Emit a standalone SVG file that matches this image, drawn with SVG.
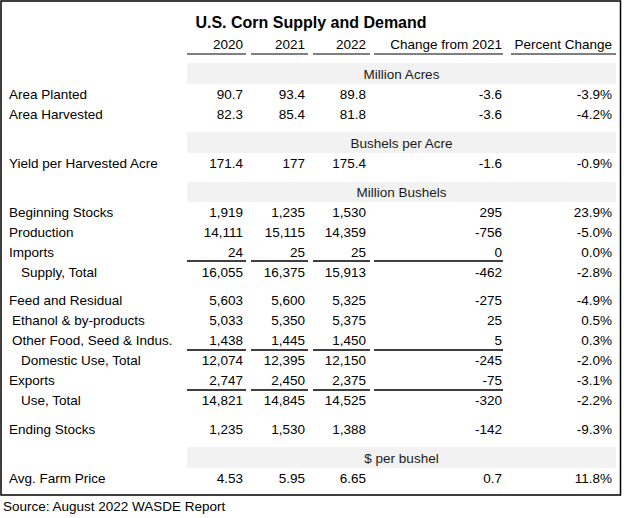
<svg xmlns="http://www.w3.org/2000/svg" width="624" height="518" viewBox="0 0 624 518">
<style>
text{font-family:"Liberation Sans",Arial,sans-serif;font-size:13.5px;fill:#000}
.t{font-size:16px;font-weight:bold;text-anchor:middle}
.r{text-anchor:end}
.m{text-anchor:middle;fill:#1a1a1a}
.band{fill:#f2f2f2}
.ul{stroke:#000;stroke-width:1.3;fill:none}
.hl{stroke:#000;stroke-width:1;fill:none}
</style>
<rect x="0" y="0" width="624" height="518" fill="#fff"/>
<rect x="1" y="1" width="619.5" height="494" fill="#fff" stroke="#000" stroke-width="1.5"/>
<g id="title"><text class="t" x="311" y="28">U.S. Corn Supply and Demand</text></g>
<g id="header">
<text class="r" x="243" y="49">2020</text>
<text class="r" x="305" y="49">2021</text>
<text class="r" x="366" y="49">2022</text>
<text class="r" x="502" y="49">Change from 2021</text>
<text class="r" x="612" y="49">Percent Change</text>
<path class="hl" d="M187 54H246M251 54H308M313 54H370M374 54H503M511 54H616"/>
</g>
<g id="bands">
<rect class="band" x="187" y="63" width="429" height="21"/>
<text class="m" x="401.5" y="79">Million Acres</text>
<rect class="band" x="187" y="132" width="429" height="21"/>
<text class="m" x="401.5" y="148">Bushels per Acre</text>
<rect class="band" x="187" y="182" width="429" height="20"/>
<text class="m" x="401.5" y="197">Million Bushels</text>
<rect class="band" x="187" y="447" width="429" height="21"/>
<text class="m" x="401.5" y="463">$ per bushel</text>
</g>
<g id="rows">
<g id="r-planted"><text x="9" y="99">Area Planted</text><text class="r" x="243" y="99">90.7</text><text class="r" x="305" y="99">93.4</text><text class="r" x="366" y="99">89.8</text><text class="r" x="502" y="99">-3.6</text><text class="r" x="612" y="99">-3.9%</text></g>
<g id="r-harvested"><text x="9" y="119">Area Harvested</text><text class="r" x="243" y="119">82.3</text><text class="r" x="305" y="119">85.4</text><text class="r" x="366" y="119">81.8</text><text class="r" x="502" y="119">-3.6</text><text class="r" x="612" y="119">-4.2%</text></g>
<g id="r-yield"><text x="9" y="168">Yield per Harvested Acre</text><text class="r" x="243" y="168">171.4</text><text class="r" x="305" y="168">177</text><text class="r" x="366" y="168">175.4</text><text class="r" x="502" y="168">-1.6</text><text class="r" x="612" y="168">-0.9%</text></g>
<g id="r-begin"><text x="9" y="217">Beginning Stocks</text><text class="r" x="243" y="217">1,919</text><text class="r" x="305" y="217">1,235</text><text class="r" x="366" y="217">1,530</text><text class="r" x="502" y="217">295</text><text class="r" x="612" y="217">23.9%</text></g>
<g id="r-prod"><text x="9" y="237">Production</text><text class="r" x="243" y="237">14,111</text><text class="r" x="305" y="237">15,115</text><text class="r" x="366" y="237">14,359</text><text class="r" x="502" y="237">-756</text><text class="r" x="612" y="237">-5.0%</text></g>
<g id="r-imports"><text x="9" y="257">Imports</text><text class="r" x="243" y="257">24</text><text class="r" x="305" y="257">25</text><text class="r" x="366" y="257">25</text><text class="r" x="502" y="257">0</text><text class="r" x="612" y="257">0.0%</text></g>
<g id="r-supply"><text x="21" y="277">Supply, Total</text><text class="r" x="243" y="277">16,055</text><text class="r" x="305" y="277">16,375</text><text class="r" x="366" y="277">15,913</text><text class="r" x="502" y="277">-462</text><text class="r" x="612" y="277">-2.8%</text></g>
<g id="r-feed"><text x="9" y="305">Feed and Residual</text><text class="r" x="243" y="305">5,603</text><text class="r" x="305" y="305">5,600</text><text class="r" x="366" y="305">5,325</text><text class="r" x="502" y="305">-275</text><text class="r" x="612" y="305">-4.9%</text></g>
<g id="r-ethanol"><text x="12" y="325">Ethanol &amp; by-products</text><text class="r" x="243" y="325">5,033</text><text class="r" x="305" y="325">5,350</text><text class="r" x="366" y="325">5,375</text><text class="r" x="502" y="325">25</text><text class="r" x="612" y="325">0.5%</text></g>
<g id="r-other"><text x="12" y="345">Other Food, Seed &amp; Indus.</text><text class="r" x="243" y="345">1,438</text><text class="r" x="305" y="345">1,445</text><text class="r" x="366" y="345">1,450</text><text class="r" x="502" y="345">5</text><text class="r" x="612" y="345">0.3%</text></g>
<g id="r-domestic"><text x="21" y="365">Domestic Use, Total</text><text class="r" x="243" y="365">12,074</text><text class="r" x="305" y="365">12,395</text><text class="r" x="366" y="365">12,150</text><text class="r" x="502" y="365">-245</text><text class="r" x="612" y="365">-2.0%</text></g>
<g id="r-exports"><text x="9" y="385">Exports</text><text class="r" x="243" y="385">2,747</text><text class="r" x="305" y="385">2,450</text><text class="r" x="366" y="385">2,375</text><text class="r" x="502" y="385">-75</text><text class="r" x="612" y="385">-3.1%</text></g>
<g id="r-use"><text x="21" y="405">Use, Total</text><text class="r" x="243" y="405">14,821</text><text class="r" x="305" y="405">14,845</text><text class="r" x="366" y="405">14,525</text><text class="r" x="502" y="405">-320</text><text class="r" x="612" y="405">-2.2%</text></g>
<g id="r-ending"><text x="9" y="434">Ending Stocks</text><text class="r" x="243" y="434">1,235</text><text class="r" x="305" y="434">1,530</text><text class="r" x="366" y="434">1,388</text><text class="r" x="502" y="434">-142</text><text class="r" x="612" y="434">-9.3%</text></g>
<g id="r-price"><text x="9" y="483">Avg. Farm Price</text><text class="r" x="243" y="483">4.53</text><text class="r" x="305" y="483">5.95</text><text class="r" x="366" y="483">6.65</text><text class="r" x="502" y="483">0.7</text><text class="r" x="612" y="483">11.8%</text></g>
</g>
<g id="rules">
<path class="ul" d="M187 261H246M251 261H308M313 261H370M374 261H503"/>
<path class="ul" d="M187 350H246M251 350H308M313 350H370M374 350H503"/>
<path class="ul" d="M187 390H246M251 390H308M313 390H370M374 390H503"/>
</g>
<g id="source"><text x="3" y="511">Source: August 2022 WASDE Report</text></g>
</svg>
